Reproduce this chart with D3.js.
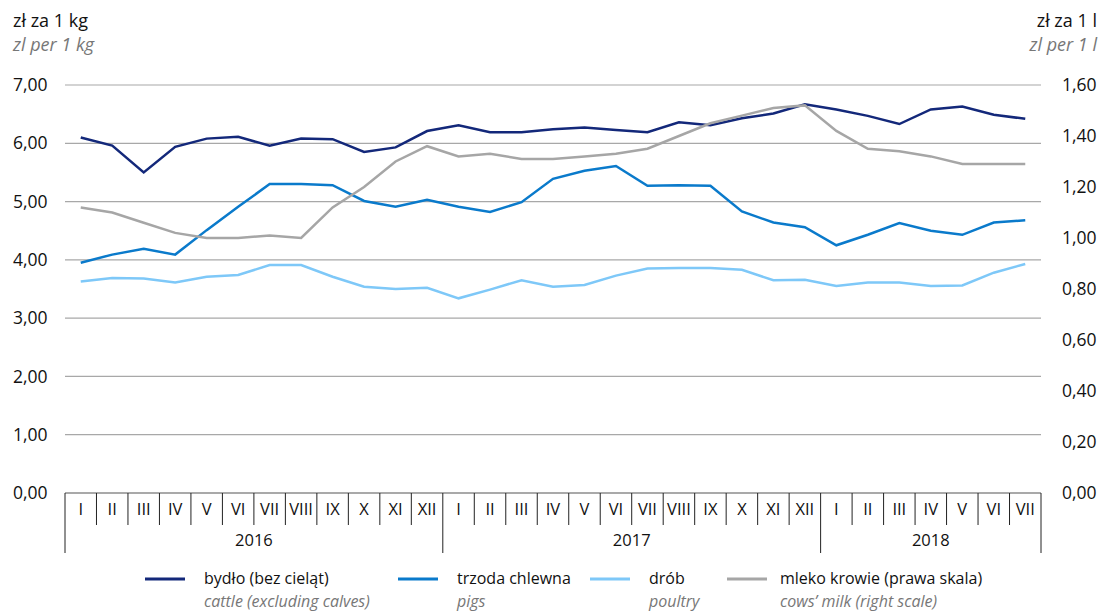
<!DOCTYPE html>
<html><head><meta charset="utf-8">
<script src="https://cdn.jsdelivr.net/npm/d3@7"></script>
<style>
body{margin:0;background:#fff;}
svg{font-family:"Open Sans","Noto Sans",sans-serif;}
</style></head>
<body><svg id="c" width="1107" height="611"></svg>
<script>
const months = ["I","II","III","IV","V","VI","VII","VIII","IX","X","XI","XII",
  "I","II","III","IV","V","VI","VII","VIII","IX","X","XI","XII",
  "I","II","III","IV","V","VI","VII"];
const years = ["2016","2017","2018"];
const yearCounts = [12,12,7];
const cattle = [6.10,5.96,5.50,5.94,6.08,6.11,5.96,6.08,6.07,5.85,5.93,6.21,
  6.31,6.19,6.19,6.24,6.27,6.23,6.19,6.36,6.31,6.43,6.51,6.67,
  6.58,6.47,6.33,6.58,6.63,6.49,6.42];
const pigs = [3.95,4.09,4.19,4.09,4.51,4.91,5.30,5.30,5.28,5.01,4.91,5.03,
  4.91,4.82,4.99,5.39,5.53,5.61,5.27,5.28,5.27,4.83,4.64,4.56,
  4.25,4.43,4.63,4.50,4.43,4.64,4.68];
const poultry = [3.63,3.69,3.68,3.61,3.71,3.74,3.91,3.91,3.71,3.54,3.50,3.52,
  3.34,3.49,3.65,3.54,3.57,3.73,3.85,3.86,3.86,3.83,3.65,3.66,
  3.55,3.61,3.61,3.55,3.56,3.78,3.93];
const milk = [1.12,1.10,1.06,1.02,1.00,1.00,1.01,1.00,1.12,1.20,1.30,1.36,
  1.32,1.33,1.31,1.31,1.32,1.33,1.35,1.40,1.45,1.48,1.51,1.52,
  1.42,1.35,1.34,1.32,1.29,1.29,1.29];
const leftTicks = [0,1,2,3,4,5,6,7];
const rightTicks = [0,0.2,0.4,0.6,0.8,1.0,1.2,1.4,1.6];
const seriesNames = ["bydło (bez cieląt)","trzoda chlewna","drób","mleko krowie (prawa skala)"];
const seriesNamesEn = ["cattle (excluding calves)","pigs","poultry","cows\u2019 milk (right scale)"];
const colors = ["#13287a","#0a7acb","#7ec8f8","#a6a6a6"];

const svg = d3.select("#c");
const L = 65, R = 1041, T = 85, B = 493;
const x = d3.scaleBand().domain(d3.range(months.length)).range([L, R]).padding(0);
const yL = d3.scaleLinear().domain([0,7]).range([B, T]);
const yR = d3.scaleLinear().domain([0,1.6]).range([B, T]);
const fmt = d => d3.format(".2f")(d).replace(".", ",");

// gridlines
svg.append("g").selectAll("line").data(leftTicks.slice(1)).join("line")
  .attr("x1", L).attr("x2", R).attr("y1", d => yL(d)).attr("y2", d => yL(d))
  .attr("stroke", "#a8a8a8").attr("stroke-width", 1.2);

// left axis labels
const ga = svg.append("g").attr("transform", `translate(13,0)`)
  .call(d3.axisLeft(yL).tickValues(leftTicks).tickFormat(fmt).tickSize(0));
ga.select(".domain").remove();
ga.selectAll("text").attr("text-anchor","start").attr("x",0).attr("dy","0.32em")
  .attr("font-size",17.5).attr("fill","#111").attr("font-family","Open Sans");

const gr = svg.append("g").attr("transform", `translate(1062,0)`)
  .call(d3.axisRight(yR).tickValues(rightTicks).tickFormat(fmt).tickSize(0));
gr.select(".domain").remove();
gr.selectAll("text").attr("text-anchor","start").attr("x",0).attr("dy","0.32em")
  .attr("font-size",17.5).attr("fill","#111").attr("font-family","Open Sans");

// axis titles
svg.append("text").attr("x",13).attr("y",27).attr("font-size",18).attr("fill","#111").text("zł za 1 kg");
svg.append("text").attr("x",13).attr("y",51).attr("font-size",18).attr("fill","#777").attr("font-style","italic").text("zl per 1 kg");
svg.append("text").attr("x",1097).attr("y",27).attr("font-size",18).attr("fill","#111").attr("text-anchor","end").text("zł za 1 l");
svg.append("text").attr("x",1097).attr("y",51).attr("font-size",18).attr("fill","#777").attr("font-style","italic").attr("text-anchor","end").text("zl per 1 l");

// x axis baseline
svg.append("line").attr("x1",L).attr("x2",R).attr("y1",B).attr("y2",B).attr("stroke","#8c8c8c").attr("stroke-width",1.6);

// month separators
const bounds = d3.range(months.length+1);
let cum = 0; const yearBounds = [0];
yearCounts.forEach(c => { cum += c; yearBounds.push(cum); });
svg.append("g").selectAll("line").data(bounds).join("line")
  .attr("x1", i => i < months.length ? x(i) : R).attr("x2", i => i < months.length ? x(i) : R)
  .attr("y1", B).attr("y2", i => yearBounds.includes(i) ? 553 : 525)
  .attr("stroke", "#222").attr("stroke-width", 1);

svg.append("g").selectAll("text").data(months).join("text")
  .attr("x", (d,i) => x(i) + x.bandwidth()/2).attr("y", 515)
  .attr("text-anchor","middle").attr("font-size",16.5).attr("fill","#111").text(d => d);

svg.append("g").selectAll("text").data(years).join("text")
  .attr("x", (d,i) => {
    const a = yearBounds[i], b = yearBounds[i+1];
    const xa = x(a), xb = b < months.length ? x(b) : R;
    return (xa + xb)/2;
  }).attr("y", 546).attr("text-anchor","middle").attr("font-size",16.5).attr("fill","#111").text(d => d);

// lines
const cx = i => x(i) + x.bandwidth()/2;
const lineL = d3.line().x((d,i) => cx(i)).y(d => yL(d));
const lineR = d3.line().x((d,i) => cx(i)).y(d => yR(d));
svg.append("path").datum(cattle).attr("d", lineL).attr("fill","none").attr("stroke",colors[0]).attr("stroke-width",2.5);
svg.append("path").datum(pigs).attr("d", lineL).attr("fill","none").attr("stroke",colors[1]).attr("stroke-width",2.5);
svg.append("path").datum(poultry).attr("d", lineL).attr("fill","none").attr("stroke",colors[2]).attr("stroke-width",2.5);
svg.append("path").datum(milk).attr("d", lineR).attr("fill","none").attr("stroke",colors[3]).attr("stroke-width",2.5);

// legend
const legX = [145, 398, 590, 727];
const lg = svg.append("g").selectAll("g").data(seriesNames).join("g")
  .attr("transform", (d,i) => `translate(${legX[i]},0)`);
lg.append("line").attr("x1",0).attr("x2",40).attr("y1",579).attr("y2",579)
  .attr("stroke",(d,i)=>colors[i]).attr("stroke-width",3);
lg.append("text").attr("x",(d,i)=> i===3 ? 53 : 59).attr("y",584).attr("font-size",16).attr("fill","#111").text(d=>d);
lg.append("text").attr("x",(d,i)=> i===3 ? 53 : 59).attr("y",607).attr("font-size",16).attr("fill","#777")
  .attr("font-style","italic").text((d,i)=>seriesNamesEn[i]);
</script></body></html>
